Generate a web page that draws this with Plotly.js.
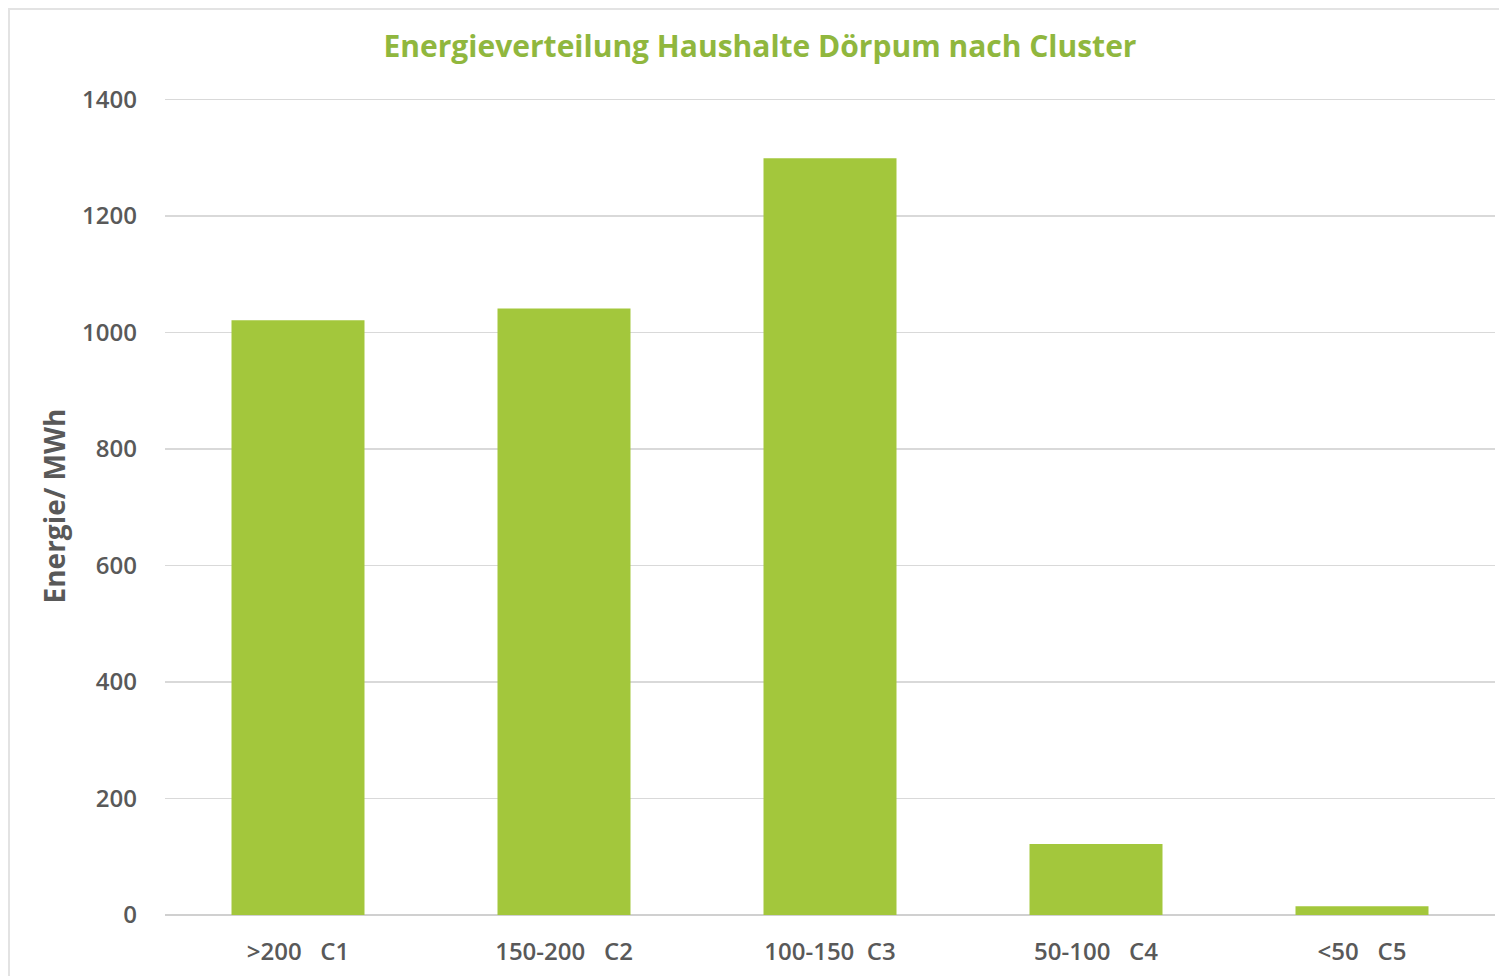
<!DOCTYPE html>
<html>
<head>
<meta charset="utf-8">
<script src="https://cdn.plot.ly/plotly-3.0.1.min.js"></script>
<style>
html,body{margin:0;padding:0;background:#fff;}
#chart{width:1499px;height:976px;}
#frame{position:absolute;left:8px;top:8px;width:1500px;height:1000px;border:2px solid #e3e3e3;pointer-events:none;box-sizing:border-box;}
</style>
</head>
<body>
<div id="chart"></div>
<div id="frame"></div>
<script>
const categories = [">200\u00a0\u00a0\u00a0C1", "150-200\u00a0\u00a0\u00a0C2", "100-150\u00a0\u00a0C3", "50-100\u00a0\u00a0\u00a0C4", "<50\u00a0\u00a0\u00a0C5"];
const energyMWh = [1021, 1041, 1299, 122, 15];
const yTicks = [0, 200, 400, 600, 800, 1000, 1200, 1400];

const trace = {
  type: 'bar',
  x: categories,
  y: energyMWh,
  marker: {color: '#a3c73c'},
  hoverinfo: 'x+y'
};

const layout = {
  width: 1499,
  height: 976,
  margin: {l: 165, r: 4, t: 97, b: 61},
  paper_bgcolor: '#ffffff',
  plot_bgcolor: '#ffffff',
  bargap: 0.5,
  showlegend: false,
  title: {
    text: 'Energieverteilung Haushalte Dörpum nach Cluster',
    font: {family: 'Open Sans', size: 30, color: '#90b73e', weight: 'bold'},
    x: 0.507, xanchor: 'center',
    y: 0.952, yanchor: 'middle'
  },
  xaxis: {
    type: 'category',
    tickfont: {family: 'Open Sans', size: 24, color: '#595959', weight: 600},
    showgrid: false,
    showline: false,
    ticks: '',
    ticklen: 0,
    tickangle: 0,
    ticklabelstandoff: 20
  },
  yaxis: {
    range: [0, 1404],
    tickvals: yTicks,
    ticktext: yTicks.map(String),
    tickfont: {family: 'Open Sans', size: 24, color: '#595959', weight: 600},
    showgrid: true,
    gridcolor: '#d9d9d9',
    gridwidth: 1.5,
    zeroline: true,
    zerolinecolor: '#d0d0d0',
    zerolinewidth: 1.5,
    ticks: '',
    ticklabelstandoff: 27,
    title: {
      text: 'Energie/ MWh',
      font: {family: 'Open Sans', size: 28, color: '#595959', weight: 'bold'},
      standoff: 8
    }
  }
};

Plotly.newPlot('chart', [trace], layout, {displayModeBar: false, staticPlot: true});
</script>
</body>
</html>
